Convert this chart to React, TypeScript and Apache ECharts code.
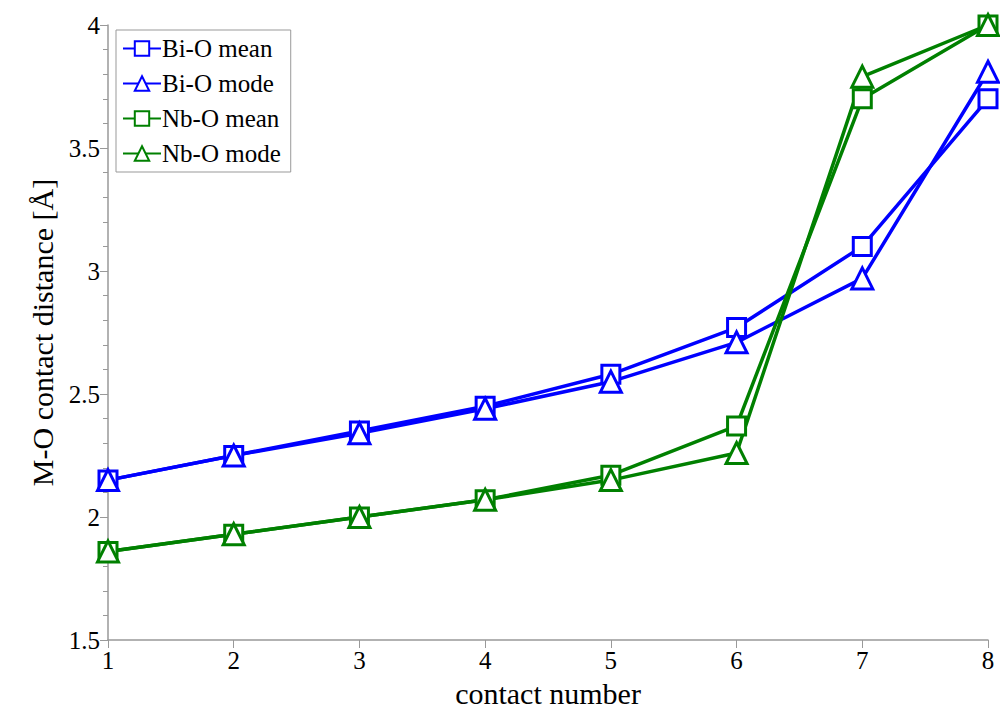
import React, { useEffect, useRef } from "react";
import * as echarts from "echarts";

const contactNumbers = [1, 2, 3, 4, 5, 6, 7, 8];
const biOMean = [2.15, 2.25, 2.35, 2.45, 2.58, 2.77, 3.10, 3.70];
const biOMode = [2.15, 2.25, 2.34, 2.44, 2.55, 2.71, 2.97, 3.81];
const nbOMean = [1.86, 1.93, 2.0, 2.07, 2.17, 2.37, 3.70, 4.0];
const nbOMode = [1.86, 1.93, 2.0, 2.07, 2.15, 2.26, 3.79, 4.0];

const FONT = "Liberation Serif";

function mkSeries(name: string, values: number[], color: string, symbol: string) {
  return {
    name,
    type: "line",
    data: contactNumbers.map((x, i) => [x, values[i]]),
    symbol,
    symbolSize: symbol === "triangle" ? 21 : 18,
    showAllSymbol: true,
    clip: false,
    lineStyle: { color, width: 3.5 },
    itemStyle: { color: "#ffffff", borderColor: color, borderWidth: 3 },
    emphasis: { disabled: true },
  };
}

export default function App() {
  const ref = useRef<HTMLDivElement>(null);
  useEffect(() => {
    if (!ref.current) return;
    const chart = echarts.init(ref.current, undefined, { renderer: "svg" });
    chart.setOption({
      animation: false,
      backgroundColor: "#ffffff",
      grid: { left: 108, right: 12, top: 25, bottom: 76 },
      legend: {
        orient: "vertical",
        left: 116,
        top: 30,
        itemWidth: 38,
        itemHeight: 18,
        itemGap: 10,
        padding: [6, 10, 6, 6],
        borderColor: "#999999",
        borderWidth: 1,
        backgroundColor: "#ffffff",
        textStyle: { fontFamily: FONT, fontSize: 25, color: "#000000", padding: [0, 0, 0, -4] },
        data: ["Bi-O mean", "Bi-O mode", "Nb-O mean", "Nb-O mode"],
      },
      xAxis: {
        type: "value",
        min: 1,
        max: 8,
        interval: 1,
        name: "contact number",
        nameLocation: "middle",
        nameGap: 38,
        nameTextStyle: { fontFamily: FONT, fontSize: 30, color: "#000000" },
        axisLine: { show: true, lineStyle: { color: "#999999", width: 1.5 } },
        axisTick: { show: true, inside: false, length: 8, lineStyle: { color: "#999999" } },
        axisLabel: { fontFamily: FONT, fontSize: 25, color: "#000000", margin: 8 },
        splitLine: { show: false },
      },
      yAxis: {
        type: "value",
        min: 1.5,
        max: 4,
        interval: 0.5,
        name: "M-O contact distance [Å]",
        nameLocation: "middle",
        nameGap: 44,
        nameTextStyle: { fontFamily: FONT, fontSize: 30, color: "#000000" },
        axisLine: { show: true, lineStyle: { color: "#999999", width: 1.5 } },
        axisTick: { show: true, inside: false, length: 8, lineStyle: { color: "#999999" } },
        minorTick: { show: true, splitNumber: 5, length: 5, lineStyle: { color: "#999999" } },
        axisLabel: { fontFamily: FONT, fontSize: 25, color: "#000000", margin: 8 },
        splitLine: { show: false },
      },
      series: [
        mkSeries("Bi-O mean", biOMean, "#0000ff", "rect"),
        mkSeries("Bi-O mode", biOMode, "#0000ff", "triangle"),
        mkSeries("Nb-O mean", nbOMean, "#008000", "rect"),
        mkSeries("Nb-O mode", nbOMode, "#008000", "triangle"),
      ],
    });
    return () => chart.dispose();
  }, []);
  return <div ref={ref} style={{ width: 1000, height: 716, position: "absolute", left: 0, top: 0 }} />;
}
